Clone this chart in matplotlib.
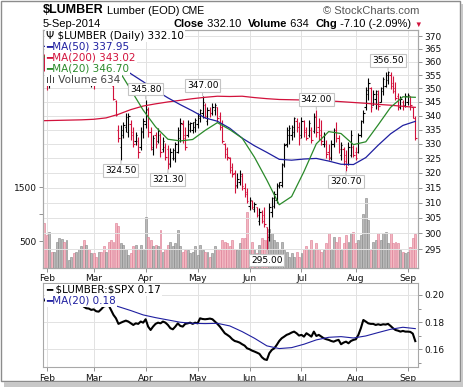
import matplotlib
matplotlib.use("Agg")
import matplotlib.pyplot as plt
import matplotlib.ticker as mticker
from matplotlib.patches import Rectangle
import numpy as np
import pandas as pd

# --- values (one entry per session, 31-Jan .. 5-Sep-2014) ---
HOLIDAYS = ["2014-02-17", "2014-04-18", "2014-05-26", "2014-07-04", "2014-09-01"]
MONTHS = ["Feb", "Mar", "Apr", "May", "Jun", "Jul", "Aug", "Sep"]

opens = [
    361, 358, 354, 356, 355, 357, 359, 361, 362, 360,
    362, 364, 365, 363, 364, 365, 366, 363, 364, 356,
    358, 355, 354, 357, 356, 355, 358, 357, 351, 345.5,
    335, 329, 333, 336, 334, 337, 334, 331, 331, 329,
    334, 337, 342, 334, 328, 333, 331, 333, 328, 329,
    328, 323, 325, 325, 327, 332, 337, 333, 333, 335,
    335, 336, 337, 339, 341, 344, 338, 342, 341, 342,
    343, 340, 336, 330, 328, 325, 322, 320, 316, 317,
    319, 315, 313.5, 309, 310.5, 308, 308.5, 304, 307, 306,
    302, 299, 307, 309, 311, 315.5, 316, 323, 330, 333,
    333, 334, 338, 336, 333, 338, 335, 333, 335, 334.5,
    340, 336, 335, 330, 330, 327, 325, 330, 335, 332,
    326, 328, 326, 323, 326, 329, 327, 327, 333, 338,
    343, 348, 350, 344, 346, 348, 345, 349, 351, 353,
    355, 352, 350, 347, 343, 345, 344, 345, 347, 343,
    339,
]
highs = [
    363, 359, 357.5, 358, 358.5, 360.5, 362.5, 364, 363, 363.5,
    366, 367, 366, 366, 367, 368, 367, 366, 365, 359.5,
    359, 357, 358.5, 358.5, 357.5, 359.5, 359.5, 359, 351.3, 345.7,
    336.6, 336.6, 337.8, 340.8, 340.8, 338.4, 336, 334.3, 332.5, 336,
    339, 345.8, 343.3, 336, 333, 334.3, 335.5, 333.7, 332.5, 330.2,
    329.6, 328.4, 328.4, 330.7, 336, 339, 338.4, 336, 338.4, 337.8,
    337.8, 339, 340.8, 342.6, 347, 344.5, 343.3, 343.3, 344.5, 344.5,
    343.3, 341.4, 338.4, 330.2, 329, 325.5, 323.2, 320.9, 319.8, 320.9,
    319.8, 316.4, 315, 312, 311, 310.3, 308.7, 308.2, 307.6, 308.7,
    302.2, 309.8, 312, 313.7, 316.4, 317, 323.2, 330.2, 336, 336.5,
    336.8, 339.6, 339, 337.8, 339.6, 338.4, 336, 338.4, 336, 340.8,
    342, 339, 338.4, 334.3, 331.5, 330, 331.3, 335.5, 337.8, 333,
    330.7, 329, 327.8, 330.7, 334.9, 329.6, 329, 333.7, 338.4, 342,
    350.5, 353.7, 350.5, 349.3, 349.5, 349.3, 350.5, 354.3, 356.1, 356.5,
    356, 354.7, 352.4, 348.2, 347, 345.7, 348.2, 348.2, 347, 343.3,
    340,
]
lows = [
    356.5, 349.5, 350, 353, 353.5, 355, 357, 359, 358, 358.5,
    360.5, 362, 361, 361.5, 362.5, 363.5, 361.5, 361.5, 355.5, 350.5,
    349.8, 352.5, 353, 354, 353, 354, 355.5, 355.5, 345.7, 339.8,
    330.7, 324.5, 331.9, 334.3, 332.5, 331.3, 329, 329.6, 325, 327.8,
    332, 335.5, 332.5, 327.8, 326, 328.4, 330.2, 325.5, 327.2, 324.4,
    321.3, 322.1, 324.4, 323.8, 326.7, 330.7, 330.2, 327.8, 332.5, 334.3,
    333.7, 334.3, 335.5, 337.8, 339, 339, 336.6, 339.6, 340.2, 340.2,
    337.8, 334.9, 330.2, 325, 324.4, 319.8, 318.7, 313.1, 314.8, 315.9,
    314.2, 312, 310, 307.5, 307.8, 307, 305.4, 302.7, 303.3, 302.2,
    295, 297.5, 305.4, 308.2, 309.8, 315, 315.3, 322.1, 329, 330,
    331.3, 332.5, 334.3, 329.6, 332, 332.5, 331.3, 332.5, 330.2, 333.7,
    332.5, 331.3, 329.6, 329, 325, 324.5, 324.4, 329, 330.7, 326.7,
    324.4, 322.7, 320.7, 322.5, 325.5, 325.5, 324.4, 326.7, 332.5, 337.3,
    342, 345.7, 341.4, 343.9, 342.6, 342, 344.9, 347.5, 350.5, 351.5,
    349.7, 348.2, 345.7, 342, 342.6, 342, 343.3, 343.9, 342, 339,
    331.5,
]
closes = [
    358, 354, 356, 355, 357, 359, 361, 362, 360, 362,
    364, 365, 363, 364, 365, 366, 363, 364, 357, 358,
    355, 354, 357, 356, 355, 358, 357, 356, 346, 340.3,
    332, 335, 336.5, 339.5, 340, 333, 330, 333, 327, 334.5,
    338, 342.5, 334, 329, 332, 330, 334.5, 327, 331, 325.5,
    323.5, 327, 327.8, 330, 335, 337.5, 332, 329, 337, 337.5,
    337.7, 338.5, 340, 342, 345, 340, 342, 341, 343, 344,
    339, 336, 331, 326.5, 325.5, 321, 319.5, 315.5, 318, 319.5,
    315.5, 313, 310.5, 311, 308.5, 309.5, 306, 307, 304, 303,
    299, 308.5, 311.5, 313, 316, 316.8, 322.5, 329.5, 335, 335.5,
    336, 339, 336, 332, 338, 334, 332, 337.5, 331.5, 339.5,
    334, 333, 331, 333, 326.5, 325.5, 330, 334, 332, 328,
    329.5, 324, 322, 329, 333, 326, 325, 333, 338, 341,
    349.5, 352, 343, 348, 349, 343.5, 350, 353.5, 355, 356,
    351, 349, 346.5, 343, 346, 343.5, 347, 347.5, 344, 339.2,
    332.1,
]
volumes = [
    830, 610, 670, 300, 300, 490, 550, 530, 490, 520,
    150, 210, 270, 300, 360, 400, 520, 430, 360, 270,
    270, 210, 300, 300, 400, 300, 490, 520, 490, 830,
    770, 460, 430, 360, 240, 270, 400, 430, 360, 430,
    360, 950, 580, 520, 400, 430, 400, 700, 300, 360,
    430, 490, 400, 460, 700, 400, 300, 330, 330, 270,
    300, 400, 240, 430, 330, 300, 300, 210, 270, 400,
    360, 330, 520, 490, 460, 400, 520, 360, 330, 460,
    550, 550, 1040, 360, 490, 360, 270, 430, 550, 520,
    520, 730, 640, 520, 490, 360, 490, 330, 300, 210,
    270, 210, 300, 210, 270, 360, 400, 360, 520, 360,
    460, 360, 300, 330, 460, 640, 360, 580, 490, 580,
    330, 460, 610, 490, 640, 670, 460, 520, 610, 1000,
    1300, 890, 330, 490, 520, 640, 520, 640, 670, 460,
    640, 460, 490, 460, 330, 300, 280, 300, 380, 560,
    634,
]
# $LUMBER:$SPX ratio, one value per session
ratio = [
    0.196, 0.197, 0.195, 0.196, 0.198, 0.197, 0.195, 0.196, 0.197, 0.195,
    0.194, 0.195, 0.196, 0.194, 0.193, 0.193, 0.1914, 0.1902, 0.190, 0.189,
    0.1894, 0.188, 0.1877, 0.1894, 0.1914, 0.192, 0.1926, 0.189, 0.1853, 0.1828,
    0.1787, 0.1796, 0.1804, 0.1811, 0.1804, 0.1791, 0.1779, 0.1791, 0.1787, 0.1804,
    0.1796, 0.1821, 0.1767, 0.1742, 0.1767, 0.1787, 0.1796, 0.1791, 0.1804, 0.1796,
    0.1779, 0.1755, 0.1747, 0.1767, 0.1791, 0.1772, 0.1767, 0.1787, 0.1791, 0.1796,
    0.1787, 0.1796, 0.1791, 0.1828, 0.1823, 0.1821, 0.1823, 0.1826, 0.1821, 0.1804,
    0.1787, 0.1767, 0.1742, 0.1718, 0.1706, 0.1693, 0.1674, 0.1661, 0.1656, 0.1649,
    0.1637, 0.1627, 0.1607, 0.160, 0.159, 0.1583, 0.1575, 0.1566, 0.1541, 0.1526,
    0.1521, 0.1571, 0.1595, 0.1607, 0.1632, 0.1661, 0.1681, 0.1693, 0.1706, 0.1713,
    0.1723, 0.173, 0.1718, 0.1701, 0.1706, 0.1693, 0.1718, 0.1706, 0.1693, 0.173,
    0.1698, 0.1706, 0.1693, 0.1681, 0.1674, 0.1669, 0.1661, 0.1656, 0.1664, 0.1669,
    0.1637, 0.1649, 0.1656, 0.1644, 0.1661, 0.1669, 0.1674, 0.1706, 0.1755, 0.1816,
    0.1804, 0.1791, 0.1787, 0.1787, 0.1779, 0.1784, 0.1779, 0.1784, 0.1782, 0.1787,
    0.1772, 0.1755, 0.1742, 0.1737, 0.173, 0.1735, 0.173, 0.173, 0.1728, 0.1715,
    0.166,
]
# moving averages, read every 5th session
MA_STEP = 5
ma50 = [366, 365.5, 365, 364.5, 363.5, 361.5, 358.8, 355.5, 352.5, 349.3, 346.5,
        344, 341.7, 339.2, 338, 335.5, 332, 329.3, 327, 324.6, 324.3,
        324.7, 324.9, 324, 322.9, 322.8, 325.2, 329.5, 333.5, 336.5, 337.95]
ma200 = [338.2, 338.3, 338.4, 338.5, 338.7, 339.2, 340.5, 342.2, 343.5, 344.3, 345,
         345.6, 346.2, 346.7, 347.1, 347, 347.1, 346.6, 346.2, 345.9, 345.8,
         345.7, 345.6, 345.4, 345.1, 344.8, 344.5, 344.1, 343.8, 343.4, 343.02]
ma20 = [362, 360, 360, 361, 362, 360, 357, 349.5, 342, 336, 331.6,
        331, 331.5, 334.7, 337.5, 335, 332, 325.3, 317.5, 309.3, 312,
        320.4, 330, 334.3, 333.6, 329.7, 330.7, 336.7, 343, 346.9, 346.7]
ratio_ma20 = [0.197, 0.197, 0.196, 0.196, 0.195, 0.194, 0.1914, 0.1885, 0.1853, 0.1833, 0.1816,
              0.1799, 0.1791, 0.1789, 0.1791, 0.1772, 0.173, 0.1681, 0.1625, 0.1605, 0.1612,
              0.1637, 0.1669, 0.1688, 0.1693, 0.1683, 0.1698, 0.1723, 0.1747, 0.1762, 0.1752]

# annotated swing highs / lows
LABEL_DAYS = ["2014-03-18", "2014-04-01", "2014-04-14", "2014-05-05",
              "2014-06-11", "2014-07-10", "2014-07-28", "2014-08-20"]
LABEL_KINDS = ["low", "high", "low", "high", "low", "high", "low", "high"]

# --- styling ---
W, H = 464, 387
PT = 0.72  # points per pixel at 100 dpi
UP_C = "black"
DN_C = "#d2123c"
GRID_C = "#e2e2e2"
FRAME_C = "#a8a8a8"
NAVY = "#1f1fa0"
GREEN = "#2a8a2a"
TICK_FS = 6.5
LEG_FS = 7.5
HEAD_FONT = "Liberation Sans"

dates = pd.bdate_range("2014-01-31", "2014-09-05")
dates = dates[~dates.isin(pd.to_datetime(HOLIDAYS))]
x = np.arange(len(dates))
ma_x = x[::MA_STEP]
month_pos = [int(np.argmax(dates.month == m)) for m in range(2, 10)]

o, h, l, c, v = map(np.asarray, (opens, highs, lows, closes, volumes))
prev = np.r_[o[0], c[:-1]]
down = c < prev
bar_c = np.where(down, DN_C, UP_C)


def box(x0, y0, x1, y1):
    return [x0 / W, 1 - y1 / H, (x1 - x0) / W, (y1 - y0) / H]


fig = plt.figure(figsize=(W / 100, H / 100), dpi=100)
fig.patch.set_facecolor("white")

ax_vol = fig.add_axes(box(43, 30, 418, 268))
ax = ax_vol.twinx()
ax_rel = fig.add_axes(box(43, 283.3, 418, 367.3))

# volume (left scale, behind price)
ax_vol.bar(x, v, width=0.8, color=np.where(down, "#f3b7c1", "#b9b9b9"),
           edgecolor=np.where(down, "#dc7890", "#838383"), linewidth=0.4)
ax_vol.set_ylim(0, 4408)
ax_vol.set_yticks([500, 1000, 1500], ["500", "", "1500"])
ax_vol.set_xticks(month_pos, MONTHS)
ax_vol.grid(axis="x", color=GRID_C, lw=0.7)
ax_vol.set_axisbelow(True)

# price bars and averages (right, log scale)
ax.vlines(x, l, h, colors=bar_c, lw=0.8)
ax.hlines(o, x - 0.55, x, colors=bar_c, lw=0.8)
ax.hlines(c, x, x + 0.55, colors=bar_c, lw=0.8)
ax.plot(ma_x, ma200, color=DN_C, lw=0.9)
ax.plot(ma_x, ma50, color=NAVY, lw=0.9)
ax.plot(ma_x, ma20, color=GREEN, lw=0.9)
ax.set_yscale("log")
ax.set_ylim(289.2, 372.4)
ax.yaxis.set_major_locator(mticker.FixedLocator(np.arange(295, 371, 5)))
ax.yaxis.set_major_formatter(mticker.FormatStrFormatter("%d"))
ax.yaxis.set_minor_locator(mticker.NullLocator())
ax.grid(axis="y", color=GRID_C, lw=0.7)
ax.set_axisbelow(True)

for axis in (ax_vol, ax):
    axis.set_xlim(-0.5, 151.1)

for day, kind in zip(LABEL_DAYS, LABEL_KINDS):
    i = dates.get_loc(pd.Timestamp(day))
    val = h[i] if kind == "high" else l[i]
    dy = 7.7 if kind == "high" else -7.7
    ax.annotate(f"{val:.2f}", xy=(i, val), xytext=(0, dy), textcoords="offset points",
                ha="center", va="center", fontsize=6.5, zorder=12,
                bbox=dict(boxstyle="square,pad=0.2", fc="white", ec="#c4c4c4", lw=0.8),
                arrowprops=dict(arrowstyle="-", color="#c4c4c4", lw=0.8, shrinkA=0, shrinkB=0.5))


def legend_row(axis, row, text, color, top=6):
    axis.annotate(text, xy=(0, 1), xycoords="axes fraction",
                  xytext=(3 * PT, -(top + 11 * row) * PT), textcoords="offset points",
                  ha="left", va="center", fontsize=LEG_FS, color=color, zorder=20,
                  bbox=dict(fc="white", ec="none", pad=0.9))


legend_row(ax, 0, f"\u03a8 \\$LUMBER (Daily) {c[-1]:.2f}", "black")
legend_row(ax, 1, f"\u2501MA(50) {ma50[-1]:.2f}", NAVY)
legend_row(ax, 2, f"\u2501MA(200) {ma200[-1]:.2f}", DN_C)
legend_row(ax, 3, f"\u2501MA(20) {ma20[-1]:.2f}", GREEN)
legend_row(ax, 4, f"\u0131l\u0131 Volume {v[-1]}", "#444444")

# lower panel: ratio to S&P 500
ax_rel.plot(x, ratio, color="black", lw=1.5)
ax_rel.plot(ma_x, ratio_ma20, color=NAVY, lw=0.8)
ax_rel.set_xlim(-0.5, 151.1)
ax_rel.set_ylim(0.1467, 0.2086)
ax_rel.yaxis.tick_right()
ax_rel.yaxis.set_major_locator(mticker.FixedLocator([0.16, 0.18, 0.20]))
ax_rel.yaxis.set_minor_locator(mticker.FixedLocator([0.15, 0.17, 0.19]))
ax_rel.yaxis.set_major_formatter(mticker.FormatStrFormatter("%.2f"))
ax_rel.set_xticks(month_pos, MONTHS)
ax_rel.grid(True, which="major", color=GRID_C, lw=0.7)
ax_rel.set_axisbelow(True)
legend_row(ax_rel, 0, f"\u2501 \\$LUMBER:\\$SPX {ratio[-1]:.2f}", "black", top=6.7)
legend_row(ax_rel, 1, f"\u2501MA(20) {ratio_ma20[-1]:.2f}", NAVY, top=6.4)

for axis in (ax_vol, ax, ax_rel):
    for sp in axis.spines.values():
        sp.set_color(FRAME_C)
        sp.set_linewidth(0.8)
    axis.tick_params(which="both", length=3, width=0.6, color="#808080",
                     labelsize=TICK_FS, pad=1.5, labelcolor="#111111")
    axis.tick_params(which="minor", length=2)

# header
fig.text(43 / W, 1 - 10 / H, "\\$LUMBER", fontsize=9, weight="bold", va="center",
         ha="left", family=HEAD_FONT)
fig.text(107 / W, 1 - 11 / H, "Lumber (EOD)", fontsize=8, va="center", ha="left",
         family=HEAD_FONT)
fig.text(182 / W, 1 - 11 / H, "CME", fontsize=7.5, va="center", ha="left", family=HEAD_FONT)
fig.text(419 / W, 1 - 10.5 / H, "\u00a9 StockCharts.com", fontsize=8, va="center",
         ha="right", color="#555555", family=HEAD_FONT)
last = dates[-1]
fig.text(43 / W, 1 - 24 / H, f"{last.day}-{last:%b-%Y}", fontsize=8, va="center",
         ha="left", family=HEAD_FONT)

chg = c[-1] - c[-2]
pieces = [("Close", "bold", "black", 8), (f" {c[-1]:.2f}  ", "normal", "black", 8),
          ("Volume", "bold", "black", 8), (f" {v[-1]}  ", "normal", "black", 8),
          ("Chg", "bold", "black", 8),
          (f" {chg:.2f} ({chg / c[-2] * 100:.2f}%) ", "normal", "black", 8),
          ("\u25bc", "normal", DN_C, 5.5)]
prev_txt = fig.text(174 / W, 1 - 29 / H, pieces[0][0], fontsize=pieces[0][3],
                    weight=pieces[0][1], va="bottom", ha="left", family=HEAD_FONT)
for txt, wgt, col, fs in pieces[1:]:
    prev_txt = ax.annotate(txt, xy=(1, 0), xycoords=prev_txt, va="bottom", ha="left",
                           fontsize=fs, weight=wgt, color=col, annotation_clip=False,
                           family=[HEAD_FONT, "DejaVu Sans"])

# outer frame with drop shadow
fig.add_artist(Rectangle((0.5 / W, 1 - 380.5 / H), 459.5 / W, 380 / H,
                         transform=fig.transFigure, fill=False, ec="#8c8c8c", lw=1))
fig.add_artist(Rectangle((461 / W, 1 - 384 / H), 3 / W, 380 / H,
                         transform=fig.transFigure, fc="#c8c8c8", ec="none"))
fig.add_artist(Rectangle((4 / W, 0), 460 / W, 5.5 / H,
                         transform=fig.transFigure, fc="#c8c8c8", ec="none"))

fig.savefig("out.png", dpi=100)
